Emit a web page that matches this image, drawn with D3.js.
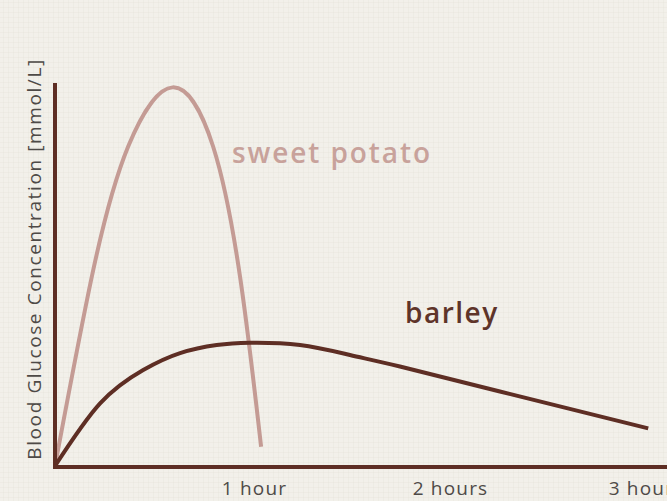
<!DOCTYPE html>
<html>
<head>
<meta charset="utf-8">
<script src="https://cdn.jsdelivr.net/npm/d3@7"></script>
<style>
    html, body { margin: 0; padding: 0; background: #f1efe9; }
    svg { display: block; }
</style>
</head>
<body>
<div id="chart"></div>
<script>
// minutes after eating, relative blood glucose level
const sweetPotato = [
    [0, 0], [11.7, 5.1], [22.4, 8.32], [36.0, 9.86], [48.4, 8.32],
    [56.8, 4.84], [63.1, 0.5]
];
const barley = [
    [0, 0], [13.8, 1.63], [27.0, 2.5], [38.3, 2.94], [49.5, 3.15], [59.7, 3.21],
    [75.0, 3.15], [90.3, 2.89], [105.6, 2.59], [136.2, 1.94], [181.6, 0.98]
];
const tickMinutes = [60, 120, 180];
const tickLabels = ["1 hour", "2 hours", "3 hours"];
const yLabel = "Blood Glucose Concentration [mmol/L]";

const width = 667;
const height = 501;
const font = "'Open Sans', 'Noto Sans', sans-serif";

const svg = d3.select("#chart")
    .append("svg")
    .attr("width", width)
    .attr("height", height);

// faint linen texture
const defs = svg.append("defs");
const pat = defs.append("pattern")
    .attr("id", "linen")
    .attr("width", 5)
    .attr("height", 5)
    .attr("patternUnits", "userSpaceOnUse");
pat.append("rect").attr("width", 5).attr("height", 5).attr("fill", "#f2f0ea");
pat.append("rect").attr("y", 2).attr("width", 5).attr("height", 1).attr("fill", "#e4e1da").attr("opacity", 0.35);
pat.append("rect").attr("x", 3).attr("width", 1).attr("height", 5).attr("fill", "#e4e1da").attr("opacity", 0.3);

svg.append("rect")
    .attr("width", width)
    .attr("height", height)
    .attr("fill", "url(#linen)");

const x = d3.scaleLinear().domain([0, 180]).range([55, 643]);
const y = d3.scaleLinear().domain([0, 10]).range([466, 82]);

const line = d3.line()
    .x(d => x(d[0]))
    .y(d => y(d[1]))
    .curve(d3.curveNatural);

svg.append("path")
    .datum(sweetPotato)
    .attr("d", line)
    .attr("fill", "none")
    .attr("stroke", "#c49b94")
    .attr("stroke-width", 4);

svg.append("path")
    .datum(barley)
    .attr("d", line)
    .attr("fill", "none")
    .attr("stroke", "#5e2e24")
    .attr("stroke-width", 4);

// axes
svg.append("line")
    .attr("x1", x(0)).attr("x2", x(0))
    .attr("y1", 83).attr("y2", y(0) + 2)
    .attr("stroke", "#5e2e24")
    .attr("stroke-width", 4);

svg.append("line")
    .attr("x1", x(0) - 2).attr("x2", width + 5)
    .attr("y1", y(0) + 1).attr("y2", y(0) + 1)
    .attr("stroke", "#5e2e24")
    .attr("stroke-width", 4);

const xAxis = d3.axisBottom(x)
    .tickValues(tickMinutes)
    .tickFormat((d, i) => tickLabels[i])
    .tickSize(0)
    .tickPadding(15);

const gx = svg.append("g")
    .attr("transform", `translate(0, ${y(0) + 1})`)
    .call(xAxis);
gx.select(".domain").remove();
gx.selectAll("text")
    .attr("fill", "#4e4a47")
    .style("font-family", font)
    .style("font-size", "19px")
    .style("letter-spacing", "1.2px")
    .attr("dx", 3);

svg.append("text")
    .attr("transform", "rotate(-90)")
    .attr("x", -259)
    .attr("y", 41)
    .attr("text-anchor", "middle")
    .attr("fill", "#4e4a47")
    .style("font-family", font)
    .style("font-size", "19px")
    .style("letter-spacing", "1.6px")
    .text(yLabel);

svg.append("text")
    .attr("x", 232)
    .attr("y", 163)
    .attr("fill", "#c8a29b")
    .style("font-family", font)
    .style("font-size", "28px")
    .style("font-weight", "600")
    .style("letter-spacing", "1.9px")
    .text("sweet potato");

svg.append("text")
    .attr("x", 405)
    .attr("y", 323)
    .attr("fill", "#5e3429")
    .style("font-family", font)
    .style("font-size", "28px")
    .style("font-weight", "600")
    .style("letter-spacing", "1.5px")
    .text("barley");
</script>
</body>
</html>
